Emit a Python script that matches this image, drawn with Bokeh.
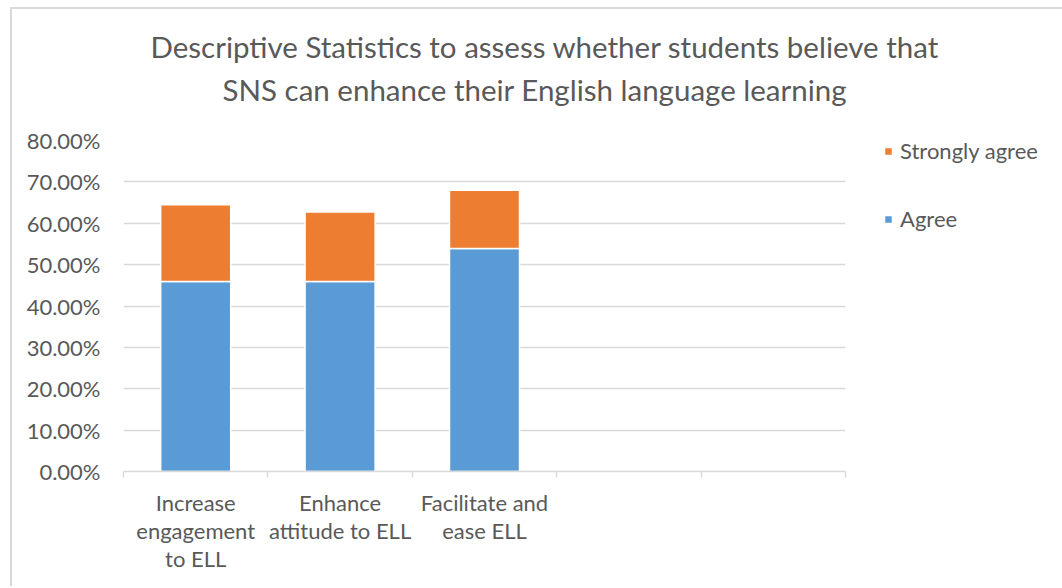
from bokeh.plotting import figure
from bokeh.models import (ColumnDataSource, FixedTicker, NumeralTickFormatter, Title,
                          Legend, LegendItem, Range1d)
from bokeh.embed import file_html
from bokeh.resources import INLINE

# ---- data ----
categories = ["Increase\nengagement\nto ELL", "Enhance\nattitude to ELL", "Facilitate and\nease ELL"]
n_slots = 5
agree = [0.459, 0.459, 0.539]
strongly_agree = [0.186, 0.168, 0.141]
series = ["agree", "strongly_agree"]
series_labels = ["Agree", "Strongly agree"]
colors = ["#5B9BD5", "#ED7D31"]
y_ticks = [0.0, 0.1, 0.2, 0.3, 0.4, 0.5, 0.6, 0.7, 0.8]
title_lines = ["Descriptive Statistics to assess whether students believe that",
               "SNS can enhance their English language learning"]

FONT = "Lato"
TXT = "#595959"
GRID = "#D9D9D9"

x_pos = [i + 0.5 for i in range(len(categories))]
src = ColumnDataSource(dict(x=x_pos, agree=agree, strongly_agree=strongly_agree))

p = figure(frame_width=722, frame_height=331, output_backend="svg", toolbar_location=None,
           x_range=Range1d(0, n_slots), y_range=Range1d(0, 0.8), title=title_lines[0],
           min_border_left=111, min_border_right=215, min_border_top=131, min_border_bottom=115)
p.styles = {"border-left": "2px solid #D9D9D9", "border-top": "2px solid #D9D9D9",
            "margin-left": "10px", "margin-top": "7px"}
p.outline_line_color = None
p.background_fill_color = "white"
p.border_fill_color = "white"

renderers = p.vbar_stack(series, x="x", width=0.485, color=colors, source=src,
                         line_color="white", line_width=1.5)

# y axis
p.yaxis.ticker = FixedTicker(ticks=y_ticks)
p.yaxis.formatter = NumeralTickFormatter(format="0.00%")
p.yaxis.axis_line_color = None
p.yaxis.major_tick_line_color = None
p.yaxis.minor_tick_line_color = None
p.yaxis.major_label_standoff = 17
p.yaxis.major_label_text_font = FONT
p.yaxis.major_label_text_font_size = "22px"
p.yaxis.major_label_text_color = TXT

# grid
p.ygrid.ticker = FixedTicker(ticks=y_ticks)
p.ygrid.grid_line_color = GRID
p.ygrid.grid_line_width = 1.5
p.xgrid.visible = False

# x axis
p.xaxis.ticker = FixedTicker(ticks=x_pos, minor_ticks=list(range(n_slots + 1)))
p.xaxis.major_label_overrides = {x: c for x, c in zip(x_pos, categories)}
p.xaxis.axis_line_color = GRID
p.xaxis.axis_line_width = 1.5
p.xaxis.major_tick_line_color = None
p.xaxis.major_tick_out = 0
p.xaxis.major_tick_in = 0
p.xaxis.minor_tick_line_color = GRID
p.xaxis.minor_tick_line_width = 1.5
p.xaxis.minor_tick_out = 6
p.xaxis.minor_tick_in = 0
p.xaxis.major_label_standoff = 11
p.xaxis.major_label_text_font = FONT
p.xaxis.major_label_text_font_size = "22px"
p.xaxis.major_label_text_color = TXT
p.xaxis.major_label_text_line_height = 1.05

# title: line 1 is the plot title, line 2 and a spacer sit below it
p.title.align = "left"
p.title.offset = 27
p.title.standoff = 9
p.title.text_font = FONT
p.title.text_font_size = "29.5px"
p.title.text_font_style = "normal"
p.title.text_color = TXT
p.add_layout(Title(text=" ", text_font_size="10px", standoff=19), "above")
p.add_layout(Title(text=title_lines[1], align="left", offset=99, standoff=3,
                   text_font=FONT, text_font_size="29.5px", text_font_style="normal",
                   text_color=TXT), "above")

# legend
legend = Legend(items=[LegendItem(label=series_labels[1], renderers=[renderers[1]]),
                       LegendItem(label=series_labels[0], renderers=[renderers[0]])],
                location=(38, 239), glyph_width=10, glyph_height=10, label_height=20,
                spacing=41, padding=0, margin=0, label_standoff=7, border_line_color=None,
                background_fill_alpha=0, label_text_font=FONT, label_text_font_size="22px",
                label_text_color=TXT)
p.add_layout(legend, "right")

open("out.html", "w").write(file_html(p, INLINE))
